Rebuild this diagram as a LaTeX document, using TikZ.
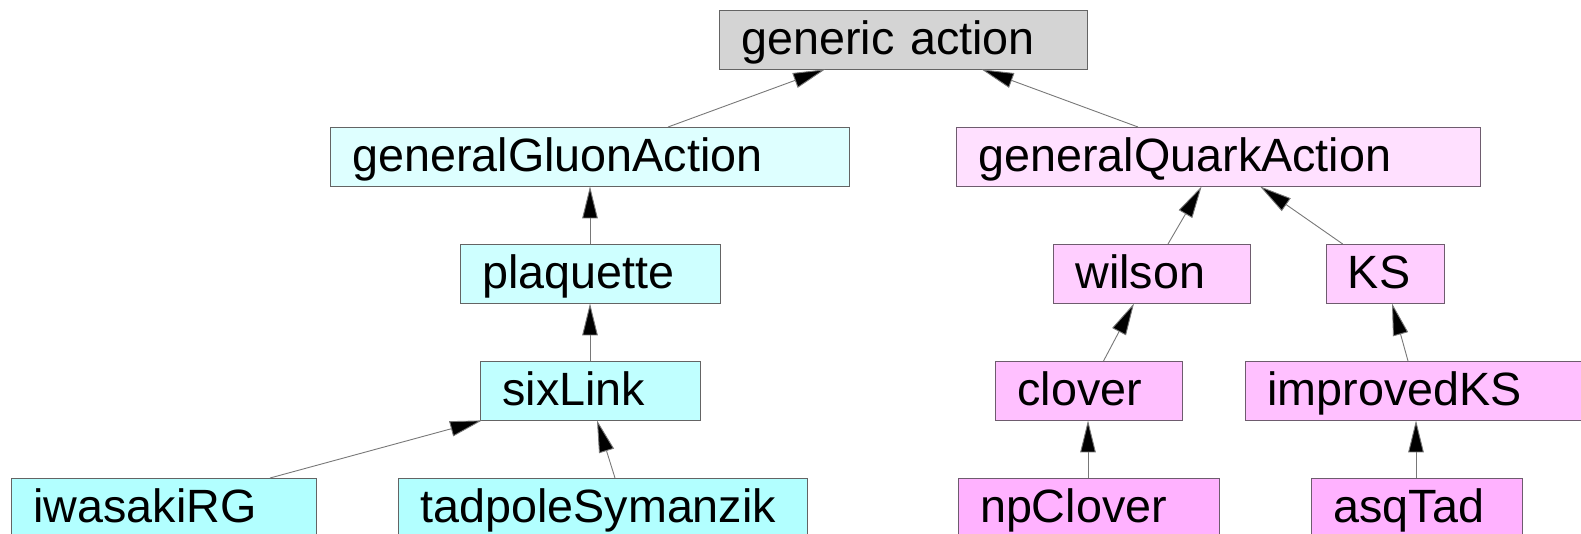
\documentclass[tikz,border=0pt]{standalone}
\usepackage{fontspec}
\setmainfont{Liberation Sans}
\usetikzlibrary{arrows.meta}

\definecolor{rootfill}{RGB}{212,212,212}
\definecolor{gluonA}{RGB}{222,255,255}
\definecolor{gluonB}{RGB}{206,255,255}
\definecolor{gluonC}{RGB}{192,255,255}
\definecolor{gluonD}{RGB}{178,255,255}
\definecolor{quarkA}{RGB}{255,224,255}
\definecolor{quarkB}{RGB}{255,206,255}
\definecolor{quarkC}{RGB}{255,192,255}
\definecolor{quarkD}{RGB}{255,178,255}
\definecolor{edgegray}{RGB}{100,100,100}
\definecolor{edgepink}{RGB}{110,92,110}
\definecolor{linkgray}{RGB}{120,120,120}

\tikzset{
  box/.style={rectangle, anchor=north west, inner xsep=22pt, inner ysep=0pt,
    minimum height=58.5pt, text height=36pt, text depth=6.5pt, align=left,
    line width=0.9pt, font=\fontsize{46.7pt}{56pt}\selectfont},
  gbox/.style={box, draw=edgegray, fill=#1},
  qbox/.style={box, draw=edgepink, fill=#1},
  inherit/.style={draw=linkgray, line width=0.9pt,
    -{Triangle[length=32pt, width=15.5pt, fill=black]}}
}

\begin{document}
\begin{tikzpicture}[x=1pt, y=-1pt]
  \useasboundingbox (0,0) rectangle (1581,533);
  \clip (0,0) rectangle (1581,533);

  % root of the hierarchy
  \node[gbox=rootfill, text width=324pt] (gen) at (719,10) {generic action};

  % gauge actions
  \node[gbox=gluonA, text width=475pt] (gga)  at (330,127) {generalGluonAction};
  \node[gbox=gluonB, text width=216pt] (plaq) at (460,244) {plaquette};
  \node[gbox=gluonC, text width=176pt] (six)  at (480,361) {sixLink};
  \node[gbox=gluonD, text width=261pt] (iwa)  at (11,478)  {iwasakiRG};
  \node[gbox=gluonD, text width=365pt] (tad)  at (398,478) {tadpoleSymanzik};

  % fermion actions
  \node[qbox=quarkA, text width=480pt]   (gqa)  at (956,127)  {generalQuarkAction};
  \node[qbox=quarkB, text width=152.5pt] (wil)  at (1053,244) {wilson};
  \node[qbox=quarkB, text width=74.5pt]  (ks)   at (1325.5,244) {KS};
  \node[qbox=quarkC, text width=143pt]   (clov) at (995,361)  {clover};
  \node[qbox=quarkC, text width=316pt]   (iks)  at (1245,361) {improvedKS};
  \node[qbox=quarkD, text width=217.4pt] (npc)  at (957.6,478) {npClover};
  \node[qbox=quarkD, text width=167pt]   (asq)  at (1311,478) {asqTad};

  % inheritance links, child -> parent
  \draw[inherit] ([xshift=338pt]gga.north west) -- ([xshift=106pt]gen.south west);
  \draw[inherit] ([xshift=182pt]gqa.north west) -- ([xshift=262.7pt]gen.south west);
  \draw[inherit] ([xshift=130pt]plaq.north west) -- ([xshift=260pt]gga.south west);
  \draw[inherit] ([xshift=110pt]six.north west) -- ([xshift=130pt]plaq.south west);
  \draw[inherit] ([xshift=259pt]iwa.north west) -- ([xshift=2pt]six.south west);
  \draw[inherit] ([xshift=217pt]tad.north west) -- ([xshift=117pt]six.south west);
  \draw[inherit] ([xshift=115pt]wil.north west) -- ([xshift=245.6pt]gqa.south west);
  \draw[inherit] ([xshift=17.2pt]ks.north west) -- ([xshift=304pt]gqa.south west);
  \draw[inherit] ([xshift=108.5pt]clov.north west) -- ([xshift=81pt]wil.south west);
  \draw[inherit] ([xshift=163pt]iks.north west) -- ([xshift=66.5pt]ks.south west);
  \draw[inherit] ([xshift=130.4pt]npc.north west) -- ([xshift=93pt]clov.south west);
  \draw[inherit] ([xshift=105pt]asq.north west) -- ([xshift=171pt]iks.south west);
\end{tikzpicture}
\end{document}
